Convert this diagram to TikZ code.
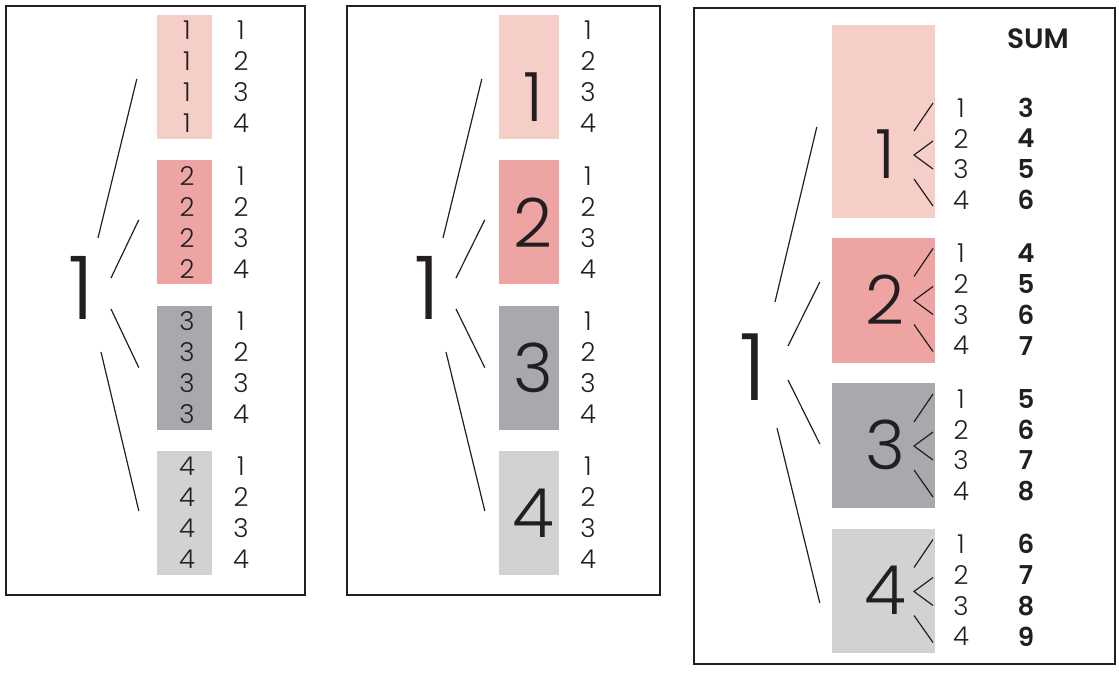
\documentclass[tikz,border=0pt]{standalone}
\usepackage{fontspec}
\setmainfont{Poppins}[UprightFont={* Light}]
\usepackage{tikz}
\usetikzlibrary{positioning, calc}
\definecolor{boxPink}{RGB}{245,206,200}
\definecolor{boxRose}{RGB}{237,164,163}
\definecolor{boxGray}{RGB}{168,169,172}
\definecolor{boxLight}{RGB}{209,210,212}
\definecolor{inkDark}{RGB}{35,31,32}
\tikzset{
  panel/.style={draw=inkDark, line width=1.8pt},
  cell/.style={inner sep=0pt, minimum width=#1},
  small/.style={text=inkDark, inner sep=0pt, font=\fontsize{26}{26}\selectfont},
  big/.style={text=inkDark, inner sep=0pt, font=\fontsize{#1}{#1}\selectfont},
  sumtxt/.style={text=inkDark, inner sep=0pt, font=\fontsize{26}{26}\selectfont\bfseries},
  branch/.style={draw=inkDark, line width=1.2pt}
}

\begin{document}
\begin{tikzpicture}[x=1pt, y=-1pt]
	\useasboundingbox (0,0) rectangle (1119,675);
	% left panel: every pair written out
	\draw[panel] (6,6) rectangle (305,595);
	\node[big=88] (rootA) at (81,288) {1};
	\foreach \i/\col in {1/boxPink, 2/boxRose, 3/boxGray, 4/boxLight}{
		\pgfmathsetmacro\yc{77+145.3*(\i-1)}
		\node[cell=55, minimum height=124, fill=\col] (a\i) at (184.5,\yc) {};
		\foreach \j in {1,...,4}{
			\pgfmathsetmacro\yr{\yc+31*(\j-2.5)}
			\node[small] (a\i-\j) at (187,\yr) {\i};
			\node[small] (ar\i-\j) at (241,\yr) {\j};
		}
	}
	\draw[branch] ($(rootA)+(17,-50)$) -- ($(a1.west)+(-20,2)$);
	\draw[branch] ($(rootA)+(30,-10)$) -- ($(a2.west)+(-18,-2.5)$);
	\draw[branch] ($(rootA)+(30,21)$) -- ($(a3.west)+(-18,0)$);
	\draw[branch] ($(rootA)+(20,64)$) -- ($(a4.west)+(-18,-2)$);

	% middle panel: one digit per box
	\draw[panel] (347,6) rectangle (660,595);
	\node[big=88] (rootB) at (427,288) {1};
	\foreach \i/\col/\dy in {1/boxPink/20, 2/boxRose/0, 3/boxGray/0, 4/boxLight/0}{
		\pgfmathsetmacro\yc{77+145.3*(\i-1)}
		\node[cell=60, minimum height=124, fill=\col] (b\i) at (529,\yc) {};
		\node[big=68] (bd\i) at (533,\yc+\dy) {\i};
		\foreach \j in {1,...,4}{
			\pgfmathsetmacro\yr{\yc+31*(\j-2.5)}
			\node[small] (br\i-\j) at (588,\yr) {\j};
		}
	}
	\draw[branch] ($(rootB)+(16,-50)$) -- ($(b1.west)+(-17,2)$);
	\draw[branch] ($(rootB)+(29,-10)$) -- ($(b2.west)+(-14,-2.5)$);
	\draw[branch] ($(rootB)+(29,21)$) -- ($(b3.west)+(-14,0)$);
	\draw[branch] ($(rootB)+(19,64)$) -- ($(b4.west)+(-14,-2)$);

	% right panel: fans and sums
	\draw[panel] (694,8) rectangle (1115,664);
	\node[big=93] (rootC) at (753,367) {1};
	\node[font=\fontsize{28}{28}\selectfont\bfseries, text=inkDark, inner sep=0pt] (sum) at (1038,39) {SUM};
	\foreach \i/\col/\yb/\h/\yc in {1/boxPink/121.5/193/154, 2/boxRose/300.5/125/299.5, 3/boxGray/445.5/125/445, 4/boxLight/591/124/590.5}{
		\node[cell=103, minimum height=\h, fill=\col] (c\i) at (883.5,\yb) {};
		\node[big=68] (cd\i) at (885,\yc) {\i};
		\draw[branch] ($(cd\i)+(29,-23)$) -- ($(cd\i)+(48,-51)$);
		\draw[branch] ($(cd\i)+(48,-13)$) -- ($(cd\i)+(29,1)$) -- ($(cd\i)+(48,15)$);
		\draw[branch] ($(cd\i)+(29,25)$) -- ($(cd\i)+(48,52)$);
		\foreach \j in {1,...,4}{
			\pgfmathsetmacro\yr{\yc+30.8*(\j-2.5)}
			\pgfmathtruncatemacro\s{\i+\j+1}
			\node[small] (cr\i-\j) at (961,\yr) {\j};
			\node[sumtxt] (cs\i-\j) at (1026,\yr) {\s};
		}
	}
	\draw[branch] ($(rootC)+(22,-65)$) -- ($(c1.west)+(-15,5.5)$);
	\draw[branch] ($(rootC)+(35,-21)$) -- ($(c2.west)+(-12,-18.5)$);
	\draw[branch] ($(rootC)+(35,13)$) -- ($(c3.west)+(-12,-1.5)$);
	\draw[branch] ($(rootC)+(24,61)$) -- ($(c4.west)+(-12,12)$);
\end{tikzpicture}
\end{document}
